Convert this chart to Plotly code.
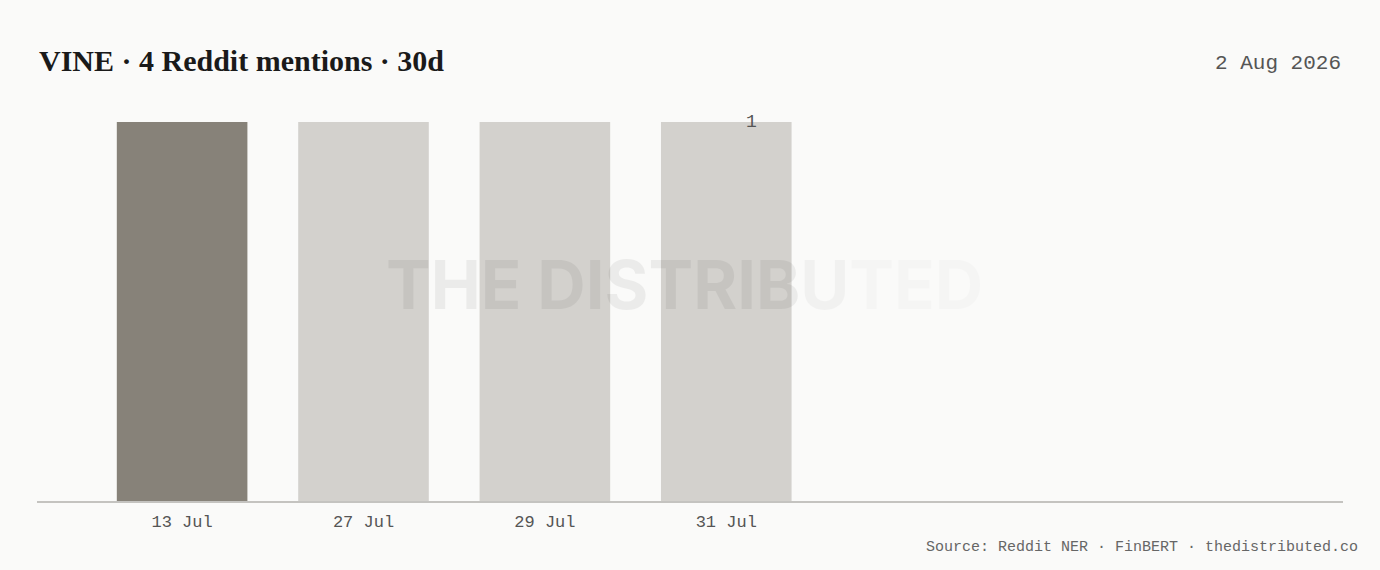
import plotly.graph_objects as go

days = ["13 Jul", "27 Jul", "29 Jul", "31 Jul"]
mentions = [1, 1, 1, 1]
bar_colors = ["#878279", "#d3d1cd", "#d3d1cd", "#d3d1cd"]

title_text = "VINE · 4 Reddit mentions · 30d"
date_text = "2 Aug 2026"
source_text = "Source: Reddit NER · FinBERT · thedistributed.co"

mono = "Liberation Mono, DejaVu Sans Mono, monospace"

fig = go.Figure()
fig.add_trace(go.Bar(
    x=days, y=mentions,
    marker=dict(color=bar_colors, line_width=0),
    width=0.72,
    hoverinfo="x+y",
))

fig.update_layout(
    width=1380, height=570,
    paper_bgcolor="#fafaf9", plot_bgcolor="#fafaf9",
    margin=dict(l=37, r=37, t=122, b=69),
    showlegend=False,
    xaxis=dict(
        type="category", range=[-0.8, 6.4],
        showgrid=False, zeroline=False,
        showline=True, linecolor="#c4c3c0", linewidth=1.5,
        ticks="", ticklabelstandoff=4,
        tickfont=dict(family=mono, size=17, color="#555555"),
    ),
    yaxis=dict(range=[0, 1], visible=False, fixedrange=True),
    annotations=[
        dict(text=title_text, xref="paper", yref="paper", x=0, y=1,
             xanchor="left", yanchor="middle", yshift=62, showarrow=False,
             font=dict(family="Liberation Serif, DejaVu Serif, serif", size=30,
                       color="#1a1a1a", weight="bold")),
        dict(text=date_text, xref="paper", yref="paper", x=1, y=1,
             xanchor="right", yanchor="middle", yshift=59, showarrow=False,
             font=dict(family=mono, size=21, color="#555555")),
        dict(text=str(mentions[-1]), x=days[-1], y=mentions[-1],
             xanchor="center", yanchor="middle", xshift=25, showarrow=False,
             font=dict(family=mono, size=18, color="#555555")),
        dict(text=("THE DISTRIB"
                   "<span style='color:#707070'>U</span>"
                   "<span style='color:#b0b0b0'>TED</span>"),
             xref="paper", yref="paper", x=0.496, y=0.57,
             xanchor="center", yanchor="middle", showarrow=False, opacity=0.055,
             font=dict(family="Inter, Roboto, sans-serif", size=67, color="#000000",
                       weight="bold")),
        dict(text=source_text, xref="paper", yref="paper", x=1, y=0,
             xanchor="right", yanchor="middle", yshift=-46, xshift=17, showarrow=False,
             font=dict(family=mono, size=15, color="#666666")),
    ],
)

fig.write_html("out.html", config={"displayModeBar": False},
               post_script="document.body.style.margin='0';")
